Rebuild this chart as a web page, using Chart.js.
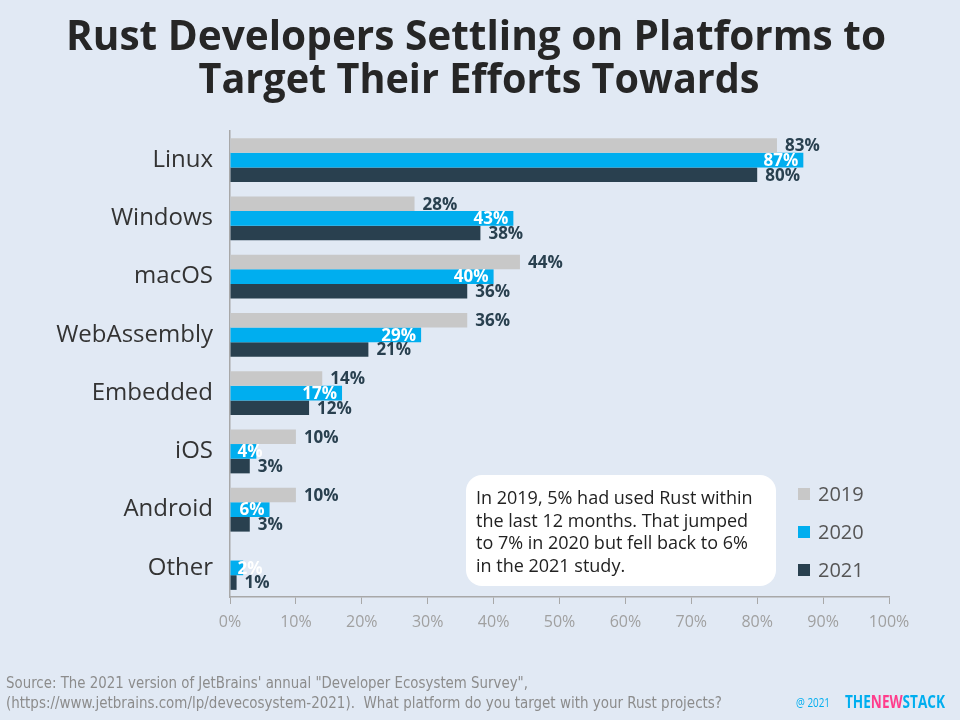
<!DOCTYPE html>
<html>
<head>
<meta charset="utf-8">
<script src="https://cdn.jsdelivr.net/npm/chart.js@4.4.1/dist/chart.umd.min.js"></script>
<style>
html,body{margin:0;padding:0;background:#e1e9f4;}
#wrap{width:960px;height:720px;position:relative;}
</style>
</head>
<body>
<div id="wrap"><canvas id="c" width="960" height="720"></canvas></div>
<script>
const titleLines = ["Rust Developers Settling on Platforms to", "Target Their Efforts Towards"];
const categories = ["Linux", "Windows", "macOS", "WebAssembly", "Embedded", "iOS", "Android", "Other"];
const seriesNames = ["2019", "2020", "2021"];
const values2019 = [83, 28, 44, 36, 14, 10, 10, null];
const values2020 = [87, 43, 40, 29, 17, 4, 6, 2];
const values2021 = [80, 38, 36, 21, 12, 3, 3, 1];
const seriesColors = ["#c8c8c8", "#00aeef", "#29404f"];
const xTicks = [0, 10, 20, 30, 40, 50, 60, 70, 80, 90, 100];
const noteLines = ["In 2019, 5% had used Rust within", "the last 12 months. That jumped", "to 7% in 2020 but fell back to 6%", "in the 2021 study."];
const footerLines = ["Source: The 2021 version of JetBrains' annual \"Developer Ecosystem Survey\",", "(https://www.jetbrains.com/lp/devecosystem-2021).  What platform do you target with your Rust projects?"];
const logoParts = ["THE", "NEW", "STACK"];

const BODY = "'Open Sans', 'Noto Sans', sans-serif";
const NARROW = "'Liberation Sans Narrow', 'DejaVu Sans Condensed', 'Open Sans', sans-serif";

function fitText(ctx, text, x, y, maxW, align) {
  const w = ctx.measureText(text).width;
  const s = w > maxW ? maxW / w : 1;
  ctx.save();
  ctx.translate(x, y);
  ctx.scale(s, 1);
  ctx.textAlign = align;
  ctx.fillText(text, 0, 0);
  ctx.restore();
}

const decor = {
  id: 'decor',
  beforeDraw(chart) {
    const ctx = chart.ctx;
    ctx.save();
    ctx.fillStyle = '#e1e9f4';
    ctx.fillRect(0, 0, chart.width, chart.height);
    ctx.restore();
  },
  afterDraw(chart) {
    const ctx = chart.ctx;
    ctx.save();
    // title
    ctx.fillStyle = '#262626';
    ctx.font = "bold 42px " + BODY;
    ctx.textBaseline = 'alphabetic';
    fitText(ctx, titleLines[0], 476, 50, 820, 'center');
    fitText(ctx, titleLines[1], 479, 93, 561, 'center');

    // note box
    const bx = 466, by = 475, bw = 310, bh = 111, r = 16;
    ctx.fillStyle = '#ffffff';
    ctx.beginPath();
    ctx.roundRect(bx, by, bw, bh, r);
    ctx.fill();
    ctx.fillStyle = '#222222';
    ctx.font = "18px " + BODY;
    noteLines.forEach((t, i) => fitText(ctx, t, 476, 504 + i * 22.5, 292, 'left'));

    // legend
    const ds = chart.data.datasets;
    ds.forEach((d, i) => {
      const y = 494 + i * 38;
      ctx.fillStyle = d.backgroundColor;
      ctx.fillRect(798, y - 6, 12, 12);
      ctx.fillStyle = '#555555';
      ctx.font = "20px " + BODY;
      ctx.textAlign = 'left';
      ctx.textBaseline = 'middle';
      ctx.fillText(d.label, 818, y + 1);
    });

    // footer
    ctx.textBaseline = 'alphabetic';
    ctx.fillStyle = '#8c8c8c';
    ctx.font = "15px " + NARROW;
    fitText(ctx, footerLines[0], 6, 688, 522, 'left');
    fitText(ctx, footerLines[1], 6, 708, 716, 'left');
    ctx.fillStyle = '#00aeef';
    ctx.font = "12px " + BODY;
    fitText(ctx, "@ 2021", 796, 707, 34, 'left');
    ctx.font = "bold 17px " + BODY;
    const total = logoParts.reduce((a, t) => a + ctx.measureText(t).width, 0);
    const sc = Math.min(1, 100 / total);
    ctx.save();
    ctx.translate(845, 708);
    ctx.scale(sc, 1);
    let x = 0;
    const cols = ['#00aeef', '#ff3d8c', '#00aeef'];
    logoParts.forEach((t, i) => {
      ctx.fillStyle = cols[i];
      ctx.textAlign = 'left';
      ctx.fillText(t, x, 0);
      x += ctx.measureText(t).width;
    });
    ctx.restore();
    ctx.restore();
  }
};

const barLabels = {
  id: 'barLabels',
  afterDatasetsDraw(chart) {
    const ctx = chart.ctx;
    ctx.save();
    ctx.font = "bold 17px " + BODY;
    ctx.textBaseline = 'middle';
    chart.data.datasets.forEach((d, di) => {
      const meta = chart.getDatasetMeta(di);
      meta.data.forEach((el, i) => {
        const v = d.data[i];
        if (v === null || v === undefined) return;
        const txt = v + '%';
        const w = ctx.measureText(txt).width;
        ctx.textAlign = 'left';
        if (di === 1) {
          ctx.fillStyle = '#ffffff';
          let tx = el.x - 5 - w;
          if (tx < el.base + 7) tx = el.base + 7;
          ctx.fillText(txt, tx, el.y + 1);
        } else {
          ctx.fillStyle = '#29404f';
          ctx.fillText(txt, el.x + 8, el.y + 1);
        }
      });
    });
    ctx.restore();
  }
};

new Chart(document.getElementById('c'), {
  type: 'bar',
  data: {
    labels: categories,
    datasets: [
      { label: seriesNames[0], data: values2019, backgroundColor: seriesColors[0] },
      { label: seriesNames[1], data: values2020, backgroundColor: seriesColors[1] },
      { label: seriesNames[2], data: values2021, backgroundColor: seriesColors[2] }
    ]
  },
  options: {
    indexAxis: 'y',
    responsive: false,
    animation: false,
    devicePixelRatio: 1,
    layout: { padding: { top: 131, right: 71, bottom: 83, left: 0 } },
    datasets: { bar: { barPercentage: 1, categoryPercentage: 0.755, borderWidth: 0 } },
    plugins: {
      legend: { display: false },
      title: { display: false },
      tooltip: { enabled: false }
    },
    scales: {
      x: {
        min: 0, max: 100,
        afterFit(s) { s.height = 40; },
        afterBuildTicks(s) { s.ticks = xTicks.map(v => ({ value: v })); },
        grid: { display: true, drawOnChartArea: false, drawTicks: true, tickLength: 7, color: '#a8a8a8' },
        border: { display: true, color: '#a8a8a8', width: 1.5 },
        ticks: {
          color: '#a0a0a0', padding: 9,
          font: { family: BODY, size: 16 },
          callback: v => v + '%'
        }
      },
      y: {
        afterFit(s) { s.width = 230; },
        grid: { display: false, drawTicks: false },
        border: { display: true, color: '#a8a8a8', width: 1.5 },
        ticks: {
          color: '#333333', padding: 17,
          font: { family: BODY, size: 24 }
        }
      }
    }
  },
  plugins: [decor, barLabels]
});
</script>
</body>
</html>
